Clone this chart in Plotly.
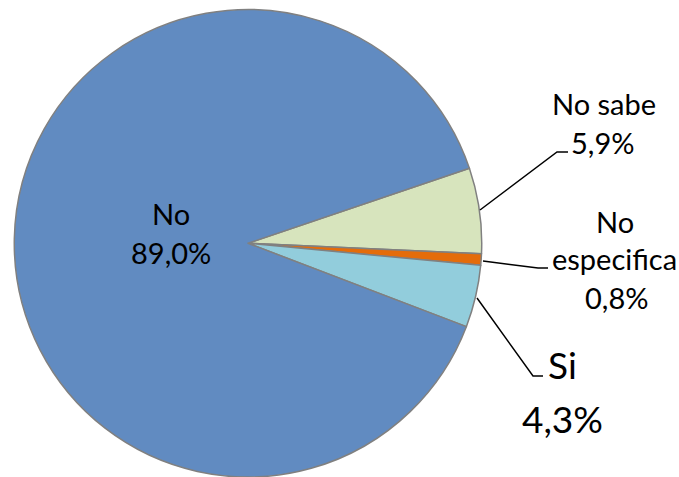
import plotly.graph_objects as go

# ---- data ----
labels = ["No sabe", "No especifica", "Si", "No"]
values = [5.9, 0.8, 4.3, 89.0]
colors = ["#D7E4BD", "#E46C0A", "#92CDDC", "#618BC1"]
label_lines = [["No sabe"], ["No", "especifica"], ["Si"], ["No"]]

W, H = 679, 477


def px(x):
    return x / W


def py(y):
    return 1 - y / H


fig = go.Figure()
fig.add_trace(go.Pie(
    labels=labels,
    values=values,
    sort=False,
    direction="clockwise",
    rotation=71.3,
    marker=dict(colors=colors, line=dict(color="#808080", width=1.5)),
    textinfo="none",
    hoverinfo="label+percent",
    showlegend=False,
    domain=dict(x=[14 / W, 482 / W], y=[0, 0.98]),
))

# label layout: (line centre positions in px, font size)
label_pos = {
    "No sabe": dict(lines=[(604, 103)], val=(602, 142), size=29),
    "No especifica": dict(lines=[(615, 221), (614, 258)], val=(616, 297), size=29),
    "Si": dict(lines=[(562, 364)], val=(562, 418), size=37),
    "No": dict(lines=[(171, 213)], val=(171, 252), size=29),
}

annotations = []
for lab, val, lines in zip(labels, values, label_lines):
    cfg = label_pos[lab]
    for (x, y), t in zip(cfg["lines"], lines):
        annotations.append(dict(x=px(x), y=py(y), xref="paper", yref="paper", text=t,
                                showarrow=False, xanchor="center", yanchor="middle",
                                font=dict(size=cfg["size"], color="black", family="Lato")))
    vx, vy = cfg["val"]
    annotations.append(dict(x=px(vx), y=py(vy), xref="paper", yref="paper",
                            text=f"{val:.1f}%".replace(".", ","),
                            showarrow=False, xanchor="center", yanchor="middle",
                            font=dict(size=cfg["size"], color="black", family="Lato")))

# leader lines (pixel paths)
leaders = [
    [(480, 210), (557, 152), (568, 152)],
    [(483, 261), (538, 268), (548, 268)],
    [(477, 298), (533, 376), (543, 376)],
]
shapes = []
for pts in leaders:
    path = "M " + " L ".join(f"{px(x)},{py(y)}" for x, y in pts)
    shapes.append(dict(type="path", xref="paper", yref="paper", path=path,
                       line=dict(color="black", width=1.5)))

fig.update_layout(
    width=W, height=H,
    margin=dict(l=0, r=0, t=0, b=0),
    paper_bgcolor="white",
    plot_bgcolor="white",
    annotations=annotations,
    shapes=shapes,
    font=dict(family="Lato"),
)

fig.write_html("out.html",
               config={"displayModeBar": False},
               post_script="document.body.style.margin='0';document.body.style.overflow='hidden';")
